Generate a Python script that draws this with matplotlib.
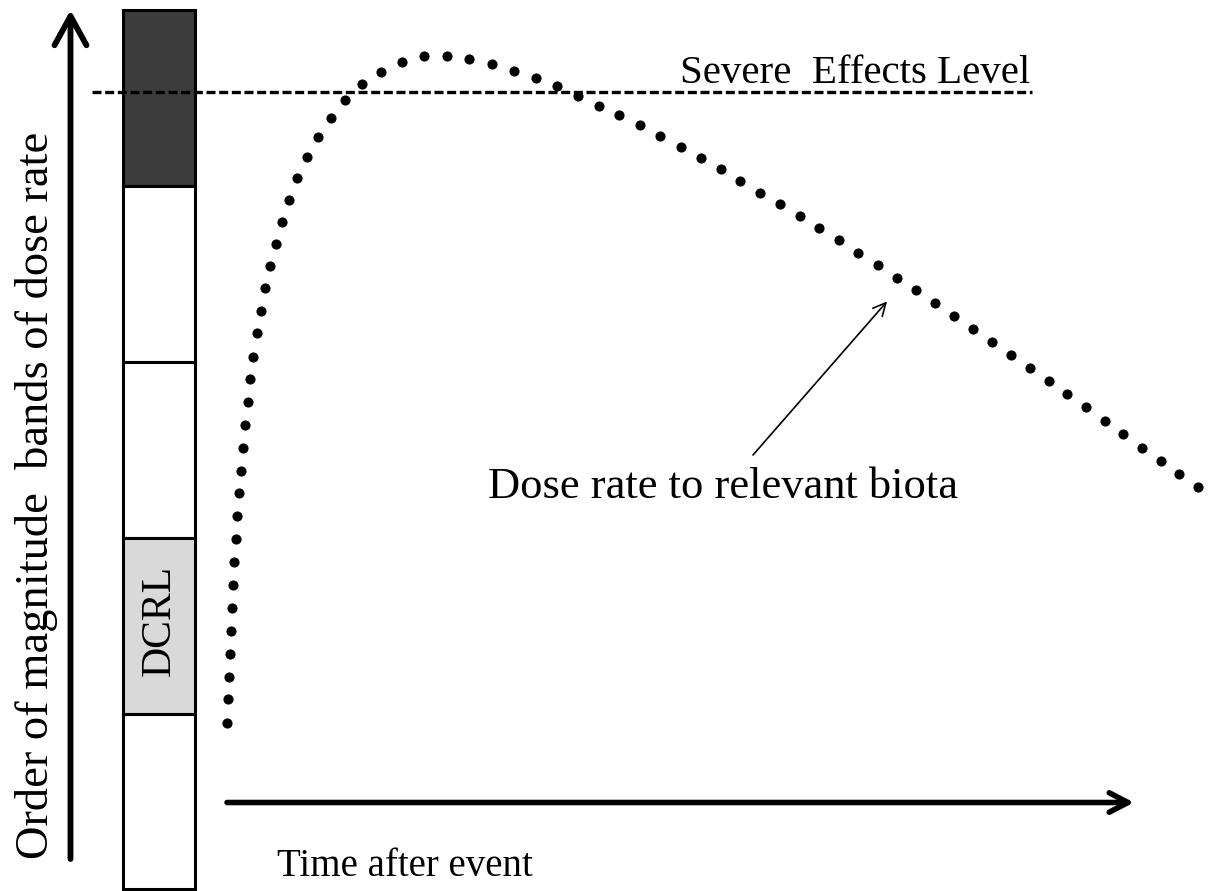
import matplotlib
matplotlib.use("Agg")
import matplotlib.pyplot as plt

# ---- data (figure pixel space: x to the right, y downward) ----
dose_x = [226.7, 228, 229, 230, 231, 232, 233, 234.3, 235.7, 237.3, 239, 240.7, 242.7,
          245, 247.7, 250, 253.3, 256.7, 260.7, 265, 270, 275.7, 282, 289, 297.3,
          306.7, 317.7, 331, 345, 362, 380.7, 401.7, 424, 446.7, 469.3, 492, 513.7,
          535.7, 556.7, 577.7, 598.7, 619.3, 640, 660.3, 681, 700.7, 720.7, 740.3,
          760.3, 780, 799.7, 819.3, 838.7, 858.3, 877.7, 896.7, 916, 935, 954, 973.3,
          992.3, 1011, 1030, 1049, 1067.3, 1086, 1104.7, 1123.3, 1142, 1160.7, 1179.3,
          1197.7]
dose_y = [723.3, 699.3, 676.7, 654, 631, 607.7, 585, 562.3, 539, 516, 492.7, 470.7, 448.3,
          425, 402.3, 379, 356.7, 333.3, 311.3, 288.3, 266, 244, 221.7, 200, 178.3,
          156.7, 136.7, 117.7, 100, 84.3, 71.7, 62, 56, 55.7, 59, 63.7, 70.7,
          78, 86.3, 96, 105.7, 115.3, 125.3, 136, 146.7, 158.3, 169.3, 180.7,
          192.7, 204.3, 216.3, 228.3, 240.3, 253, 265, 277.7, 290.3, 302.7, 315.7, 328.7,
          341.7, 355, 367.7, 381, 394.3, 407.3, 421, 434, 447.7, 461, 474,
          487.3]

band_edges = [10, 186, 362, 538, 714, 889]
band_colors = ["#3c3c3c", "white", "white", "#d9d9d9", "white"]
band_labels = ["", "", "", "DCRL", ""]

severe_level = 91.7
severe_x = [92, 1032]

W, H = 1214, 891
fig = plt.figure(figsize=(W / 100, H / 100), dpi=100)
ax = fig.add_axes([0, 0, 1, 1])
ax.set_xlim(0, W)
ax.set_ylim(H, 0)
ax.axis("off")

serif = ["Liberation Serif", "DejaVu Serif"]

# bands
col_x, col_w = 158.5, 72
for i, (c, lab) in enumerate(zip(band_colors, band_labels)):
    b0, b1 = band_edges[i], band_edges[i + 1]
    ax.bar(col_x, b1 - b0, bottom=b0, width=col_w, color=c, edgecolor="black",
           linewidth=2.2, zorder=2)
    if lab:
        ax.text(col_x + 1, (b0 + b1) / 2 - 6, lab, rotation=90, ha="center", va="center",
                fontsize=30, family=serif, zorder=3)

# severe effects level
ax.plot(severe_x, [severe_level, severe_level], color="black", lw=2.4,
        dashes=(2.7, 1.1), zorder=3)
ax.text(1030, 83, "Severe  Effects Level", ha="right", va="baseline",
        fontsize=29.5, family=serif)

# dotted dose-rate curve
ax.plot(dose_x, dose_y, "o", color="black", markersize=7.3, markeredgewidth=0, zorder=4)

# axes arrows
ax.annotate("", xy=(70.5, 10), xytext=(70.5, 859),
            arrowprops=dict(arrowstyle="->,head_length=2.1,head_width=1.15",
                            lw=4.2, color="black", shrinkA=0, shrinkB=0))
ax.annotate("", xy=(1134, 802.5), xytext=(227, 802.5),
            arrowprops=dict(arrowstyle="->,head_length=1.35,head_width=0.7",
                            lw=4.0, color="black", shrinkA=0, shrinkB=0))

# annotation arrow
ax.annotate("", xy=(887, 301.5), xytext=(753, 455),
            arrowprops=dict(arrowstyle="->,head_length=0.9,head_width=0.45",
                            lw=1.2, color="black", shrinkA=0, shrinkB=0))
ax.text(488, 498, "Dose rate to relevant biota", ha="left", va="baseline",
        fontsize=32, family=serif)

ax.text(277, 876, "Time after event", ha="left", va="baseline",
        fontsize=28, family=serif)

ax.text(37, 495, "Order of magnitude  bands of dose rate", rotation=90,
        ha="center", va="center", fontsize=33.5, family=serif)

fig.savefig("out.png", dpi=100)
